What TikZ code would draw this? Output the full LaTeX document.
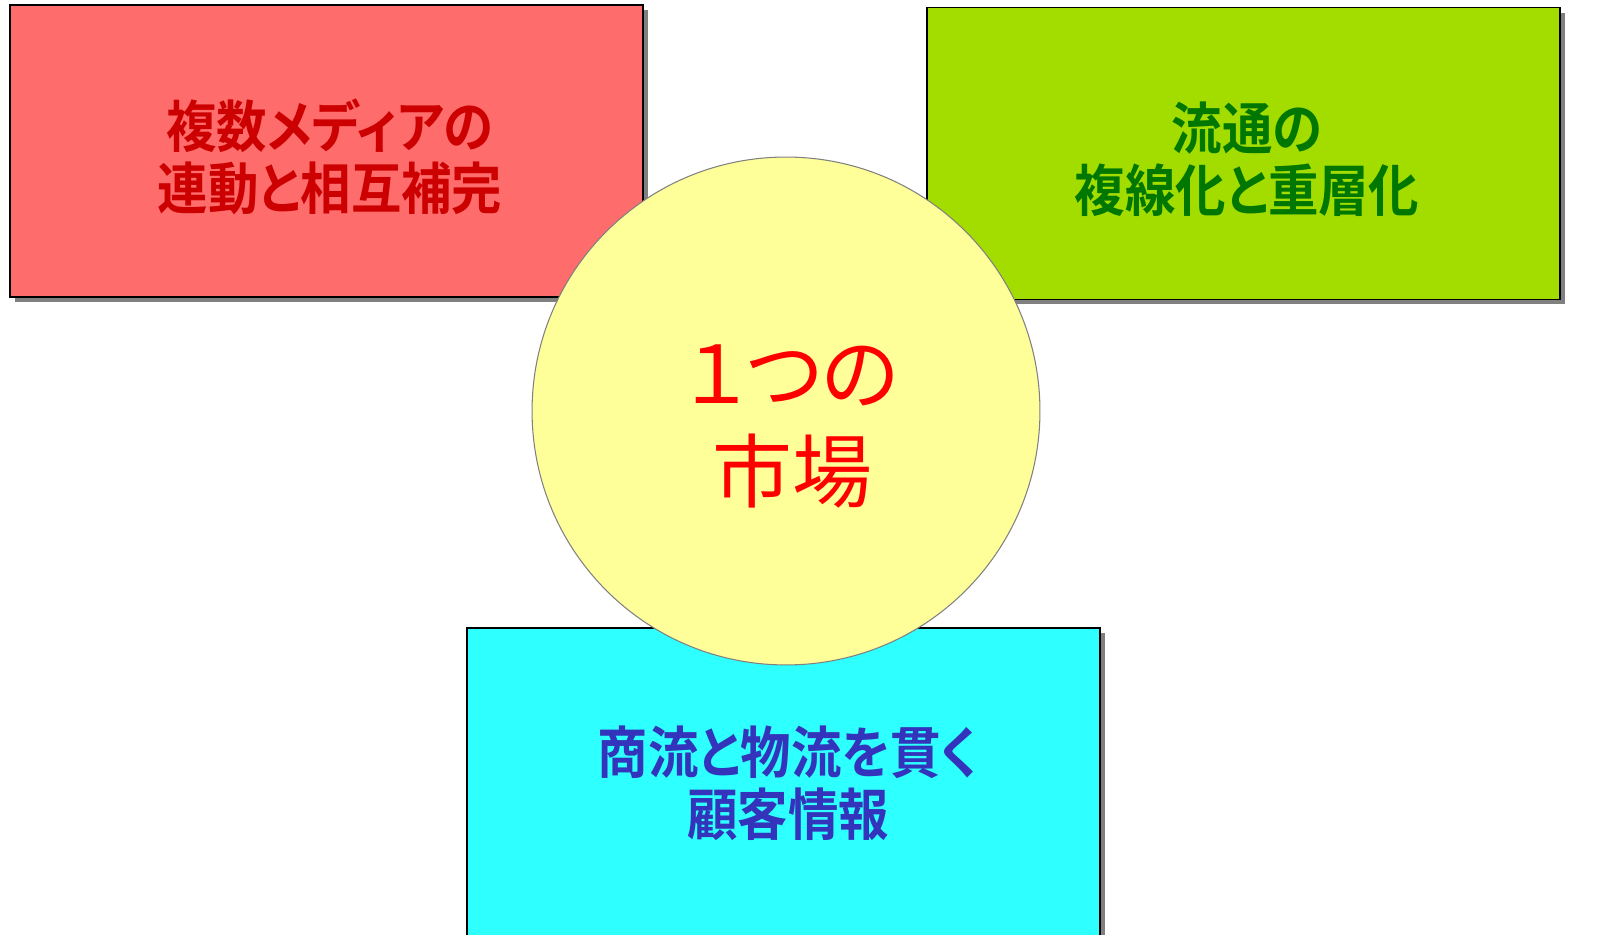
\documentclass[tikz,border=0pt]{standalone}
\usepackage{fontspec}
\usetikzlibrary{shadows}
\newfontfamily\jpfont{Noto Sans CJK JP Bold}[FakeStretch=0.9,RawFeature=+palt]
\newfontfamily\jpround{Noto Sans CJK JP}[RawFeature=+palt]
\definecolor{mediafill}{RGB}{255,108,108}
\definecolor{mediatext}{RGB}{204,0,0}
\definecolor{ryutsufill}{RGB}{163,221,0}
\definecolor{ryutsutext}{RGB}{0,119,0}
\definecolor{kokyakufill}{RGB}{46,255,255}
\definecolor{kokyakutext}{RGB}{51,51,187}
\definecolor{marketfill}{RGB}{255,255,153}

\begin{document}
\begin{tikzpicture}
[x=0.02cm,y=-0.02cm,
box/.style={rectangle,draw=black,line width=1.1pt,minimum width=12.66cm,minimum height=5.84cm,
  drop shadow={shadow xshift=0.1cm,shadow yshift=-0.1cm,fill=black!50,opacity=1}},
boxtext/.style={align=center,font=\jpfont\fontsize{31.9}{35.5}\selectfont}]
\useasboundingbox (0,0) rectangle (1598,935);
\clip (0,0) rectangle (1598,935);
\fill[white] (0,0) rectangle (1598,935);
\node[box,fill=mediafill] (media) at (326.5,151) {};
\node[box,fill=ryutsufill] (ryutsu) at (1243.5,153.5) {};
\node[box,fill=kokyakufill,minimum height=6.4cm] (kokyaku) at (783.5,788) {};
\node[boxtext,text=mediatext] (mediatitle) at (330,157) {複数メディアの\\連動と相互補完};
\node[boxtext,text=ryutsutext] (ryutsutitle) at (1247,159.5) {流通の\\複線化と重層化};
\node[boxtext,text=kokyakutext] (kokyakutitle) at (788,783) {商流と物流を貫く\\顧客情報};
% center circle
\node[circle,draw=black!50,line width=0.6pt,fill=marketfill,minimum size=10.16cm] (market) at (786,411) {};
\node[align=center,text=red,font=\jpround\fontsize{45.5}{55.8}\selectfont] (markettitle) at (792,426) {１つの\\市場};
\end{tikzpicture}
\end{document}
